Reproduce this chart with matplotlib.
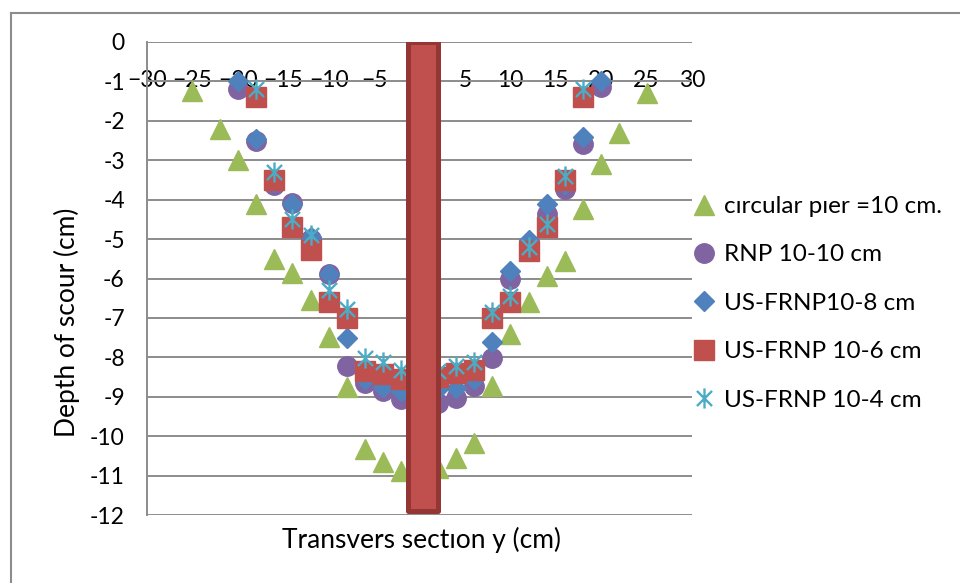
import matplotlib
matplotlib.use("Agg")
import matplotlib.pyplot as plt
from matplotlib.path import Path
from matplotlib.lines import Line2D

plt.rcParams['font.family'] = ['Lato', 'DejaVu Sans']

# Transverse positions (cm) and scour depths (cm) for each pier configuration
y_circ = [-25, -22, -20, -18, -16, -14, -12, -10, -8, -6, -4, -2,
          2, 4, 6, 8, 10, 12, 14, 16, 18, 20, 22, 25]
d_circ = [-1.25, -2.2, -3.0, -4.1, -5.5, -5.87, -6.55, -7.48, -8.75, -10.33, -10.65, -10.88,
          -10.8, -10.55, -10.17, -8.73, -7.41, -6.6, -5.93, -5.55, -4.23, -3.1, -2.31, -1.3]

y_rnp = [-20, -18, -16, -14, -12, -10, -8, -6, -4, -2,
         2, 4, 6, 8, 10, 12, 14, 16, 18, 20]
d_rnp = [-1.18, -2.5, -3.64, -4.09, -5.0, -5.89, -8.22, -8.64, -8.85, -9.05,
         -9.15, -9.02, -8.73, -8.02, -6.0, -5.2, -4.36, -3.72, -2.6, -1.14]

y_us8 = [-20, -18, -16, -14, -12, -10, -8, -6, -4, -2,
         2, 4, 6, 8, 10, 12, 14, 16, 18, 20]
d_us8 = [-1.0, -2.45, -3.55, -4.1, -4.95, -5.88, -7.51, -8.55, -8.75, -8.85,
         -8.8, -8.77, -8.55, -7.61, -5.8, -5.02, -4.1, -3.6, -2.41, -1.0]

y_us6 = [-18, -16, -14, -12, -10, -8, -6, -4, -2,
         2, 4, 6, 8, 10, 12, 14, 16, 18]
d_us6 = [-1.4, -3.5, -4.7, -5.27, -6.6, -7.0, -8.35, -8.43, -8.56,
         -8.5, -8.39, -8.33, -7.0, -6.6, -5.29, -4.7, -3.49, -1.39]

y_us4 = [-18, -16, -14, -12, -10, -8, -6, -4, -2,
         2, 4, 6, 8, 10, 12, 14, 16, 18]
d_us4 = [-1.2, -3.3, -4.5, -4.9, -6.3, -6.78, -8.02, -8.13, -8.33,
         -8.35, -8.22, -8.11, -6.84, -6.44, -5.19, -4.61, -3.41, -1.2]

# Pier body drawn in the channel section
pier_left, pier_right, pier_depth = -1.3, 2.0, -11.9

x_ticks = [-30, -25, -20, -15, -10, -5, 5, 10, 15, 20, 25, 30]
y_ticks = list(range(-12, 1))

labels = ['c\u0131rcular p\u0131er =10 cm.', 'RNP 10-10 cm', 'US-FRNP10-8 cm',
          'US-FRNP 10-6 cm', 'US-FRNP 10-4 cm']

green, purple, blue, red, cyan = '#9BBB59', '#8064A2', '#4F81BD', '#C0504D', '#4BACC6'
grid_col = '#8C8C8C'

# six-armed asterisk marker
star = Path([(-0.75, -0.75), (0.75, 0.75), (-0.75, 0.75), (0.75, -0.75), (0, -1), (0, 1)],
            [Path.MOVETO, Path.LINETO, Path.MOVETO, Path.LINETO, Path.MOVETO, Path.LINETO])

fig = plt.figure(figsize=(9.6, 5.83), dpi=100)
ax = fig.add_axes([147 / 960, 1 - 515 / 583, (692 - 147) / 960, (515 - 42) / 583])

h1, = ax.plot(y_circ, d_circ, ls='none', marker='^', ms=14.5, color=green, mec=green, zorder=3)
h2, = ax.plot(y_rnp, d_rnp, ls='none', marker='o', ms=14, color=purple, mec=purple, zorder=4)
h3, = ax.plot(y_us8, d_us8, ls='none', marker='D', ms=10.5, color=blue, mec=blue, zorder=5)
h4, = ax.plot(y_us6, d_us6, ls='none', marker='s', ms=14, color=red, mec=red, zorder=6)
h5, = ax.plot(y_us4, d_us4, ls='none', marker=star, ms=14.5, color=cyan, mec=cyan, mew=1.7, zorder=7)

ax.bar((pier_left + pier_right) / 2, pier_depth, width=pier_right - pier_left, bottom=0,
       color=red, edgecolor='#943634', linewidth=3.6, joinstyle='round', zorder=8)

ax.set_xlim(-30, 30)
ax.set_ylim(-12, 0)
ax.set_xticks(x_ticks)
ax.set_yticks(y_ticks)
ax.set_yticklabels([str(v) for v in y_ticks])

ax.grid(axis='y', color=grid_col, linewidth=1.4)
ax.set_axisbelow(True)
for s in ['top', 'right']:
    ax.spines[s].set_visible(False)
ax.spines['left'].set_color(grid_col)
ax.spines['left'].set_linewidth(1.4)
ax.spines['bottom'].set_position(('data', -1))
ax.spines['bottom'].set_visible(False)

ax.tick_params(axis='x', length=0, pad=-8.5, labelsize=16.5)
ax.tick_params(axis='y', length=0, pad=16, labelsize=16.5)

fig.text(421 / 960, 1 - 540 / 583, 'Transvers sect\u0131on y (cm)', ha='center', va='center',
         fontsize=19)
fig.text(67 / 960, 1 - 322 / 583, 'Depth of scour (cm)', ha='center', va='center',
         rotation=90, fontsize=19)

fig.legend([h1, h2, h3, h4, h5], labels, loc='upper left',
           bbox_to_anchor=(692 / 960, 1 - 196 / 583), frameon=False, fontsize=17.5,
           handlelength=1.0, handletextpad=0.3, labelspacing=1.13, borderpad=0,
           borderaxespad=0, markerscale=1.0)

# chart border
fig.add_artist(Line2D([10.5 / 960, 1.0], [1 - 12.5 / 583] * 2, color='#8C8C8C', lw=1.5))
fig.add_artist(Line2D([10.5 / 960] * 2, [1 - 12.5 / 583, 0.0], color='#8C8C8C', lw=1.5))

fig.savefig('out.png', dpi=100)
